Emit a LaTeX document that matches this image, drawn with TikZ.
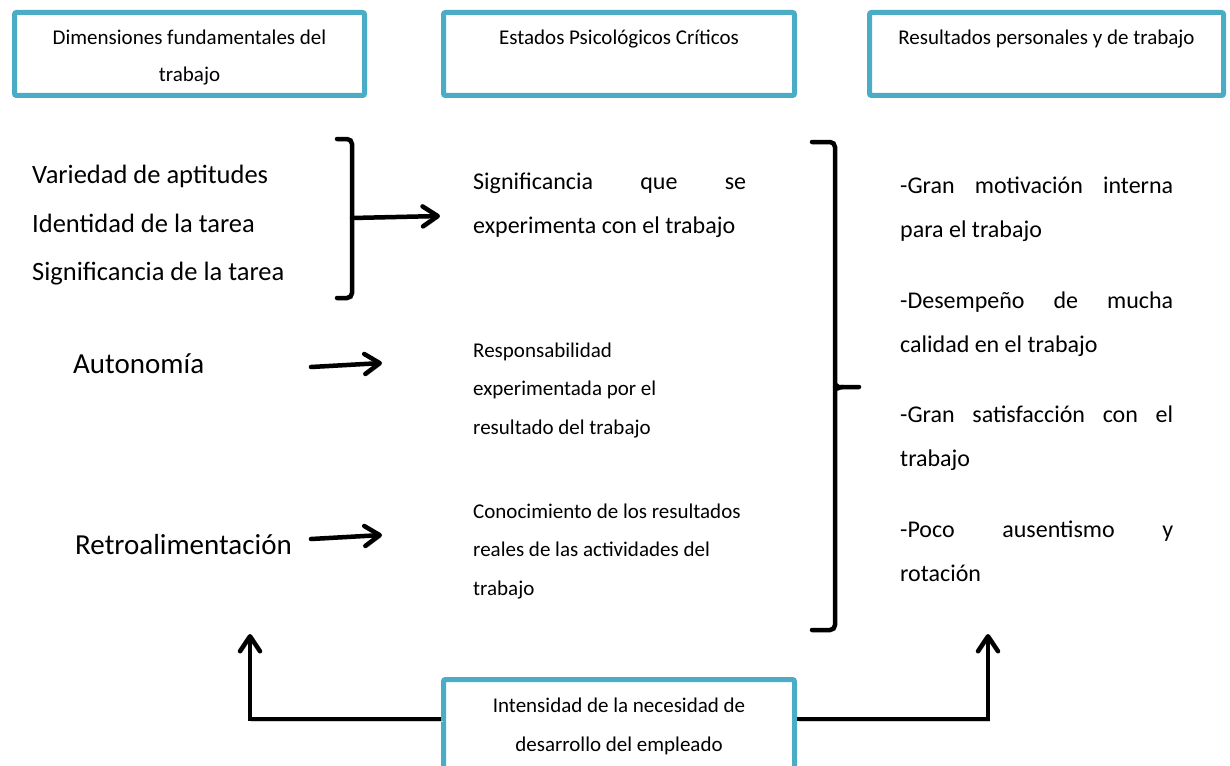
\documentclass[tikz,border=0pt]{standalone}
\usepackage{fontspec}
\setmainfont{Carlito}
\usetikzlibrary{arrows.meta,positioning}
\definecolor{boxteal}{HTML}{4BACC6}
\hyphenpenalty=10000
\exhyphenpenalty=10000
\tolerance=10000

\tikzset{
  hdrbox/.style={draw=boxteal, line width=5pt, rounded corners=2pt, inner sep=0pt,
    align=flush center, text height=32.5pt, text depth=50.5pt, font=\fontsize{21}{37}\selectfont},
  shade/.style={preaction={draw=black!18, transform canvas={shift={(1.5pt,-2pt)}}}},
  brace/.style={shade, line width=4.5pt, line cap=round, rounded corners=5pt},
  arr/.style={shade, line width=4.5pt, line cap=round,
    -{Straight Barb[length=15pt,width=20pt,round]}},
  item/.style={inner sep=0pt, anchor=base west, font=\fontsize{26.5}{30}\selectfont},
  bigitem/.style={inner sep=0pt, anchor=base west, font=\fontsize{29}{32}\selectfont},
  state/.style={inner sep=0pt, anchor=base west, text width=290pt, align=flush left,
    font=\fontsize{21}{38.5}\selectfont},
  result/.style={inner sep=0pt, anchor=base west, text width=273pt, align=justify,
    font=\fontsize{24}{44}\selectfont}
}

\begin{document}
\begin{tikzpicture}[x=1pt,y=-1pt]
\useasboundingbox (0,0) rectangle (1230,765);
%% Header boxes
\node[hdrbox, anchor=north west, minimum width=350pt, text width=350pt] (dim) at (12,10) {Dimensiones fundamentales del\\trabajo};
\node[hdrbox, right=74pt of dim, minimum width=351pt, text width=351pt] (est) {Estados Psicológicos Críticos};
\node[hdrbox, right=70pt of est, minimum width=354pt, text width=354pt] (res) {Resultados personales y de trabajo};
%% Left column
\node[item] (var) at (32,183) {Variedad de aptitudes};
\node[item] (ide) at (32,232) {Identidad de la tarea};
\node[item] (sig) at (32,280) {Significancia de la tarea};
\node[bigitem] (aut) at (73,373) {Autonomía};
\node[bigitem] (ret) at (75,554) {Retroalimentación};
%% Middle column
\node[result] (sex) at (473,189) {Significancia que se\linebreak experimenta con el trabajo};
\node[state] (rsp) at (473,357) {Responsabilidad\\experimentada por el\\resultado del trabajo};
\node[state] (con) at (473,518) {Conocimiento de los resultados\\reales de las actividades del\\trabajo};
%% Right column
\node[result] (mot) at (900,193) {-Gran motivación interna\linebreak para el trabajo};
\node[result] (des) at (900,308) {-Desempeño de mucha\linebreak calidad en el trabajo};
\node[result] (sat) at (900,422) {-Gran satisfacción con el\linebreak trabajo};
\node[result] (aus) at (900,537) {-Poco ausentismo y\linebreak rotación};
%% Bottom box
\node[hdrbox, anchor=north, minimum width=351pt, text width=351pt, text depth=62pt,
  font=\fontsize{21}{39}\selectfont] (nec) at (619,677) {Intensidad de la necesidad de\\desarrollo del empleado};
%% Brackets
\coordinate (brL) at (352,218); % left bracket tip
\coordinate (brR) at (835,387); % right bracket tip
\draw[brace] (337,139) -| (brL) |- (337,298); % left bracket
\draw[brace] (812,142) -| (835,380) to[out=-90,in=180] (843,387) -- (859,387); % right bracket (top)
\draw[brace] (812,630) -| (835,394) to[out=90,in=180] (843,387); % right bracket (bottom)
%% Arrows
\coordinate (tipS) at (440,216);
\coordinate (tipA) at (382,363);
\coordinate (tipR) at (382,535);
\draw[arr] (brL) -- (tipS);
\draw[arr] (311,367) -- (tipA); % Autonomia
\draw[arr] (311,539) -- (tipR); % Retroalimentacion
%% Feedback lines
\coordinate (lineY) at (0,719);
\coordinate (upL) at (250,634);
\coordinate (upR) at (988,634);
\draw[arr, line cap=butt] (nec.west |- lineY) -| (upL);
\draw[arr, line cap=butt] (nec.east |- lineY) -| (upR);
\end{tikzpicture}
\end{document}
